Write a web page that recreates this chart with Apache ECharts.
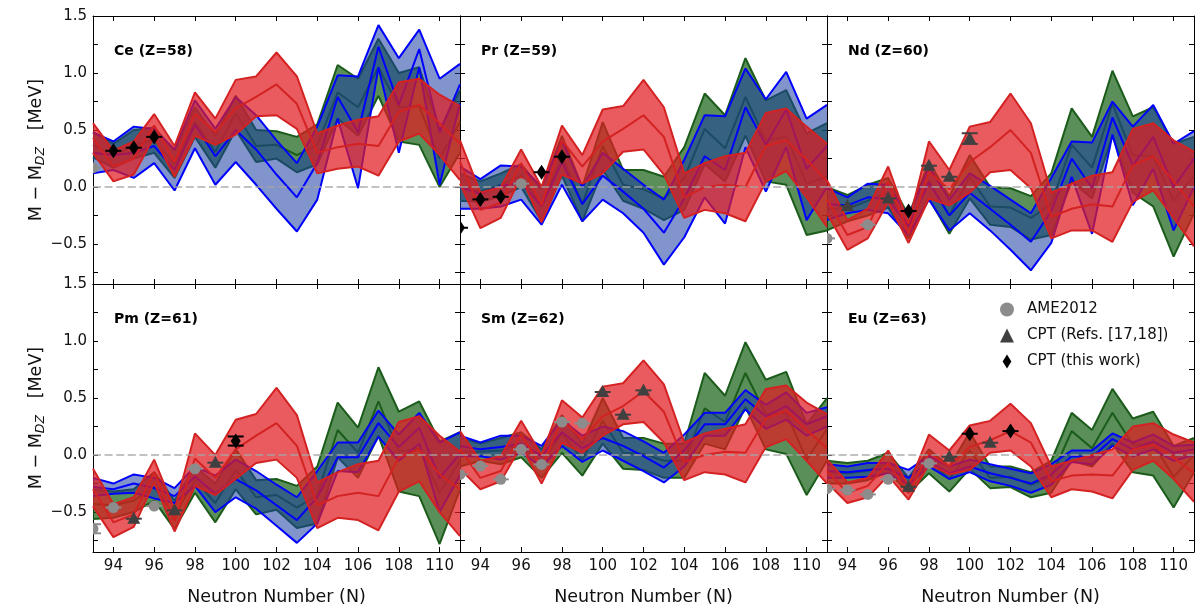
<!DOCTYPE html>
<html><head><meta charset="utf-8">
<script src="https://cdn.jsdelivr.net/npm/echarts@6/dist/echarts.min.js"></script>
<style>html,body{margin:0;padding:0;background:#fff}#c{width:1196px;height:611px}</style>
</head><body><div id="c"></div>
<script>
// ---------- data ----------
const N = [93,94,95,96,97,98,99,100,101,102,103,104,105,106,107,108,109,110,111];
const xTicks = [94,96,98,100,102,104,106,108,110];
const yTicks = [-0.75,-0.5,-0.25,0,0.25,0.5,0.75,1,1.25,1.5];
const yLabels = [-0.5,0,0.5,1,1.5];
const panelNames = ['Ce (Z=58)','Pr (Z=59)','Nd (Z=60)','Pm (Z=61)','Sm (Z=62)','Eu (Z=63)'];

// Ce
const ceGreenLo  = [0.26,0.17,0.25,0.30,0.08,0.44,0.17,0.50,0.22,0.25,0.13,0.20,0.60,0.45,0.80,0.40,0.37,0.00,0.30];
const ceGreenMid = [0.37,0.27,0.37,0.41,0.20,0.57,0.31,0.65,0.36,0.37,0.28,0.37,0.83,0.70,1.05,0.70,0.71,0.25,0.57];
const ceGreenHi  = [0.48,0.38,0.50,0.52,0.32,0.70,0.45,0.80,0.50,0.49,0.44,0.55,1.07,0.95,1.30,1.00,1.05,0.50,0.85];
const ceBlueLo   = [0.12,0.15,0.08,0.21,-0.03,0.34,0.02,0.22,0.02,-0.19,-0.39,-0.11,0.60,-0.01,1.05,0.30,1.05,0.02,0.73];
const ceBlueMid  = [0.30,0.28,0.30,0.36,0.15,0.55,0.27,0.50,0.33,0.11,-0.09,0.21,0.79,0.48,1.23,0.72,1.21,0.48,0.90];
const ceBlueHi   = [0.48,0.40,0.53,0.51,0.33,0.76,0.51,0.79,0.63,0.41,0.21,0.53,0.98,0.97,1.42,1.13,1.38,0.95,1.08];
const ceRedLo    = [0.30,0.05,0.11,0.44,0.09,0.45,0.37,0.46,0.62,0.63,0.51,0.12,0.16,0.18,0.10,0.40,0.47,0.28,0.06];
const ceRedMid   = [0.43,0.18,0.25,0.54,0.22,0.64,0.48,0.69,0.79,0.90,0.73,0.30,0.35,0.38,0.36,0.66,0.72,0.56,0.38];
const ceRedHi    = [0.56,0.32,0.40,0.64,0.36,0.83,0.60,0.94,0.97,1.18,0.97,0.47,0.54,0.59,0.62,0.92,0.95,0.81,0.71];
// Pr
const prGreenLo  = [-0.12,-0.13,-0.08,0.00,-0.30,0.10,-0.30,0.15,-0.12,-0.19,-0.29,-0.20,0.20,0.05,0.45,0.05,0.02,-0.42,-0.38];
const prGreenMid = [0.00,-0.04,0.02,0.10,-0.16,0.28,-0.15,0.36,0.02,-0.02,-0.10,0.08,0.51,0.34,0.79,0.41,0.44,0.03,0.09];
const prGreenHi  = [0.12,0.05,0.12,0.20,-0.02,0.45,0.00,0.57,0.15,0.15,0.09,0.35,0.82,0.63,1.13,0.76,0.85,0.47,0.56];
const prBlueLo   = [-0.19,-0.19,-0.17,-0.11,-0.33,0.02,-0.30,-0.11,-0.23,-0.40,-0.68,-0.44,-0.09,-0.32,0.35,-0.04,0.35,-0.29,0.00];
const prBlueMid  = [0.00,-0.06,0.01,0.04,-0.17,0.22,-0.15,0.10,-0.04,-0.19,-0.40,-0.10,0.27,0.15,0.70,0.37,0.68,0.16,0.36];
const prBlueHi   = [0.18,0.07,0.19,0.18,0.00,0.41,0.00,0.30,0.16,0.02,-0.11,0.24,0.63,0.62,1.04,0.77,1.01,0.60,0.72];
const prRedLo    = [0.03,-0.36,-0.27,0.09,-0.31,0.11,0.03,0.12,0.31,0.33,0.11,-0.27,-0.20,-0.23,-0.30,0.05,0.14,-0.09,-0.35];
const prRedMid   = [0.22,-0.20,-0.14,0.21,-0.16,0.41,0.18,0.40,0.51,0.63,0.44,-0.09,0.00,0.02,0.00,0.36,0.41,0.24,0.05];
const prRedHi    = [0.41,-0.05,0.00,0.33,0.00,0.54,0.28,0.68,0.71,0.94,0.70,0.12,0.21,0.27,0.30,0.65,0.69,0.53,0.38];
// Nd
const ndGreenLo  = [-0.38,-0.30,-0.25,-0.18,-0.45,-0.10,-0.41,-0.10,-0.33,-0.35,-0.46,-0.42,0.05,-0.10,0.45,-0.05,-0.17,-0.61,-0.23];
const ndGreenMid = [-0.19,-0.19,-0.12,-0.05,-0.35,0.06,-0.25,0.09,-0.17,-0.18,-0.27,-0.15,0.37,0.17,0.73,0.28,0.27,-0.12,0.10];
const ndGreenHi  = [0.00,-0.07,0.02,0.08,-0.25,0.22,-0.08,0.28,0.00,-0.01,-0.08,0.12,0.69,0.44,1.02,0.62,0.70,0.38,0.44];
const ndBlueLo   = [-0.29,-0.23,-0.20,-0.23,-0.42,-0.11,-0.38,-0.23,-0.38,-0.55,-0.73,-0.49,0.09,-0.41,0.46,-0.16,0.16,-0.38,0.00];
const ndBlueMid  = [-0.15,-0.16,-0.09,-0.11,-0.34,0.04,-0.25,-0.05,-0.19,-0.33,-0.48,-0.21,0.25,-0.01,0.61,0.19,0.44,0.00,0.25];
const ndBlueHi   = [-0.01,-0.09,0.03,0.02,-0.26,0.18,-0.11,0.12,0.01,-0.11,-0.23,0.08,0.40,0.39,0.75,0.53,0.72,0.38,0.49];
const ndRedLo    = [-0.23,-0.55,-0.45,-0.13,-0.49,-0.10,-0.16,-0.05,0.13,0.15,-0.01,-0.45,-0.38,-0.38,-0.48,-0.13,-0.03,-0.27,-0.52];
const ndRedMid   = [-0.11,-0.42,-0.35,0.05,-0.41,0.13,-0.02,0.22,0.35,0.50,0.30,-0.26,-0.19,-0.15,-0.17,0.19,0.27,0.05,-0.17];
const ndRedHi    = [0.06,-0.29,-0.19,0.18,-0.32,0.40,0.15,0.53,0.57,0.82,0.56,-0.05,0.03,0.10,0.13,0.51,0.56,0.41,0.31];
// Pm
const pmGreenLo  = [-0.56,-0.55,-0.50,-0.40,-0.65,-0.33,-0.59,-0.30,-0.52,-0.48,-0.64,-0.60,-0.02,-0.20,0.17,-0.32,-0.36,-0.78,-0.30];
const pmGreenMid = [-0.43,-0.44,-0.40,-0.28,-0.53,-0.22,-0.42,-0.13,-0.37,-0.35,-0.46,-0.35,0.22,0.02,0.47,0.03,0.06,-0.33,-0.05];
const pmGreenHi  = [-0.30,-0.32,-0.30,-0.15,-0.40,-0.10,-0.25,0.05,-0.22,-0.21,-0.27,-0.10,0.46,0.24,0.77,0.38,0.47,0.12,0.20];
const pmBlueLo   = [-0.36,-0.34,-0.33,-0.38,-0.42,-0.27,-0.50,-0.37,-0.47,-0.62,-0.77,-0.60,-0.14,-0.15,0.16,-0.05,0.10,-0.50,-0.18];
const pmBlueMid  = [-0.28,-0.30,-0.25,-0.29,-0.36,-0.19,-0.34,-0.21,-0.31,-0.44,-0.57,-0.37,-0.02,-0.02,0.28,0.07,0.24,-0.20,0.01];
const pmBlueHi   = [-0.20,-0.25,-0.17,-0.20,-0.29,-0.10,-0.18,-0.04,-0.14,-0.26,-0.37,-0.14,0.11,0.11,0.39,0.18,0.37,0.11,0.20];
const pmRedLo    = [-0.45,-0.72,-0.63,-0.24,-0.67,-0.27,-0.35,-0.21,-0.07,-0.04,-0.20,-0.64,-0.55,-0.57,-0.66,-0.32,-0.23,-0.50,-0.71];
const pmRedMid   = [-0.30,-0.59,-0.52,-0.15,-0.58,-0.03,-0.20,0.05,0.17,0.28,0.08,-0.44,-0.36,-0.33,-0.36,-0.02,0.05,-0.17,-0.30];
const pmRedHi    = [-0.12,-0.43,-0.37,-0.04,-0.48,0.19,0.00,0.31,0.36,0.59,0.35,-0.24,-0.15,-0.08,-0.05,0.29,0.34,0.17,0.03];
// Sm
const smGreenLo  = [-0.10,-0.05,-0.08,-0.02,-0.20,0.02,-0.18,0.10,-0.12,-0.13,-0.20,-0.20,0.10,0.05,0.42,0.05,0.01,-0.35,-0.05];
const smGreenMid = [0.03,0.03,0.04,0.09,-0.08,0.19,-0.04,0.30,0.02,0.01,-0.05,-0.05,0.41,0.29,0.72,0.36,0.37,-0.04,0.23];
const smGreenHi  = [0.15,0.10,0.15,0.20,0.05,0.35,0.10,0.50,0.15,0.15,0.10,0.10,0.72,0.52,0.99,0.66,0.73,0.27,0.50];
const smBlueLo   = [-0.01,-0.01,-0.04,0.02,-0.10,0.08,-0.06,0.04,-0.05,-0.14,-0.24,-0.10,0.17,0.17,0.40,0.23,0.31,0.17,0.25];
const smBlueMid  = [0.08,0.05,0.07,0.10,-0.01,0.20,0.06,0.15,0.08,-0.01,-0.11,0.04,0.27,0.27,0.49,0.34,0.43,0.27,0.34];
const smBlueHi   = [0.17,0.11,0.17,0.17,0.08,0.31,0.17,0.25,0.21,0.12,0.02,0.18,0.37,0.37,0.57,0.44,0.55,0.37,0.42];
const smRedLo    = [-0.12,-0.30,-0.23,0.08,-0.25,0.11,0.02,0.17,0.27,0.29,0.11,-0.22,-0.15,-0.17,-0.24,0.07,0.14,-0.05,-0.25];
const smRedMid   = [0.05,-0.20,-0.14,0.18,-0.11,0.31,0.14,0.34,0.43,0.56,0.38,-0.06,0.00,0.03,0.02,0.32,0.39,0.22,0.06];
const smRedHi    = [0.21,-0.05,-0.01,0.30,0.00,0.48,0.33,0.60,0.63,0.83,0.62,0.11,0.19,0.23,0.27,0.58,0.61,0.46,0.36];
// Eu
const euGreenLo  = [-0.25,-0.25,-0.22,-0.15,-0.33,-0.16,-0.32,-0.12,-0.29,-0.28,-0.37,-0.33,-0.05,-0.10,0.10,-0.15,-0.18,-0.46,-0.15];
const euGreenMid = [-0.15,-0.16,-0.14,-0.07,-0.27,-0.05,-0.21,0.04,-0.20,-0.19,-0.26,-0.19,0.21,0.06,0.37,0.09,0.10,-0.19,0.00];
const euGreenHi  = [-0.05,-0.07,-0.05,0.02,-0.20,0.05,-0.10,0.20,-0.10,-0.10,-0.15,-0.05,0.37,0.22,0.58,0.32,0.38,0.08,0.15];
const euBlueLo   = [-0.20,-0.20,-0.19,-0.16,-0.26,-0.10,-0.21,-0.15,-0.23,-0.27,-0.33,-0.26,-0.06,-0.08,0.08,-0.01,0.05,-0.05,0.00];
const euBlueMid  = [-0.14,-0.15,-0.13,-0.12,-0.20,-0.06,-0.16,-0.10,-0.16,-0.20,-0.25,-0.17,-0.01,-0.02,0.14,0.05,0.12,0.02,0.05];
const euBlueHi   = [-0.08,-0.10,-0.07,-0.07,-0.13,-0.01,-0.10,-0.04,-0.08,-0.12,-0.16,-0.08,0.04,0.04,0.19,0.11,0.18,0.08,0.09];
const euRedLo    = [-0.24,-0.42,-0.37,-0.18,-0.39,-0.08,-0.17,-0.13,0.02,0.04,-0.10,-0.37,-0.30,-0.32,-0.38,-0.13,-0.05,-0.21,-0.41];
const euRedMid   = [-0.14,-0.33,-0.27,-0.07,-0.33,0.02,-0.10,0.07,0.13,0.21,0.11,-0.23,-0.18,-0.17,-0.18,0.05,0.09,-0.02,-0.16];
const euRedHi    = [-0.04,-0.24,-0.20,0.04,-0.27,0.18,0.04,0.26,0.30,0.45,0.28,-0.10,-0.05,0.00,0.05,0.25,0.28,0.18,0.11];

// measured points: [N, value, error]
const ceAme = [[93,0.17,0]];
const ceRefs = [];
const ceThis = [[94,0.318,0],[95,0.345,0],[96,0.44,0]];
const prAme = [[96,0.03,0]];
const prRefs = [];
const prThis = [[93,-0.357,0],[94,-0.108,0],[95,-0.085,0],[97,0.13,0],[98,0.266,0]];
const ndAme = [[93,-0.45,0],[95,-0.33,0]];
const ndRefs = [[94,-0.167,0],[96,-0.10,0],[98,0.187,0],[99,0.09,0],[100,0.425,0.047]];
const ndThis = [[97,-0.21,0]];
const pmAme = [[93,-0.646,0.04],[94,-0.46,0],[96,-0.447,0],[98,-0.12,0]];
const pmRefs = [[95,-0.558,0],[97,-0.485,0],[99,-0.067,0]];
const pmThis = [[100,0.123,0.04]];
const smAme = [[93,-0.17,0],[94,-0.096,0],[95,-0.213,0],[96,0.05,0],[97,-0.082,0],[98,0.29,0],[99,0.278,0]];
const smRefs = [[100,0.553,0],[101,0.354,0],[102,0.567,0]];
const smThis = [];
const euAme = [[93,-0.295,0],[94,-0.307,0],[95,-0.345,0],[96,-0.213,0],[98,-0.073,0]];
const euRefs = [[97,-0.278,0],[99,-0.015,0],[101,0.108,0]];
const euThis = [[100,0.187,0],[102,0.21,0]];

// ---------- assembly ----------
const panels = [
  {g:[ceGreenLo,ceGreenMid,ceGreenHi], b:[ceBlueLo,ceBlueMid,ceBlueHi], r:[ceRedLo,ceRedMid,ceRedHi], ame:ceAme, refs:ceRefs, tw:ceThis},
  {g:[prGreenLo,prGreenMid,prGreenHi], b:[prBlueLo,prBlueMid,prBlueHi], r:[prRedLo,prRedMid,prRedHi], ame:prAme, refs:prRefs, tw:prThis},
  {g:[ndGreenLo,ndGreenMid,ndGreenHi], b:[ndBlueLo,ndBlueMid,ndBlueHi], r:[ndRedLo,ndRedMid,ndRedHi], ame:ndAme, refs:ndRefs, tw:ndThis},
  {g:[pmGreenLo,pmGreenMid,pmGreenHi], b:[pmBlueLo,pmBlueMid,pmBlueHi], r:[pmRedLo,pmRedMid,pmRedHi], ame:pmAme, refs:pmRefs, tw:pmThis},
  {g:[smGreenLo,smGreenMid,smGreenHi], b:[smBlueLo,smBlueMid,smBlueHi], r:[smRedLo,smRedMid,smRedHi], ame:smAme, refs:smRefs, tw:smThis},
  {g:[euGreenLo,euGreenMid,euGreenHi], b:[euBlueLo,euBlueMid,euBlueHi], r:[euRedLo,euRedMid,euRedHi], ame:euAme, refs:euRefs, tw:euThis}
];

const FONT = 'DejaVu Sans';
const COL = {
  g:{edge:'#1b5c1b', fill:'rgba(20,95,20,0.70)'},
  b:{edge:'#0000ff', fill:'rgba(25,60,160,0.55)'},
  r:{edge:'#d42222', fill:'rgba(225,28,32,0.72)'}
};
const LEFT = [93, 460, 827], TOP = [16, 284], W = 367, H = [268, 268];

const grids = [], xAxes = [], yAxes = [], series = [], graphics = [];
const fmt = v => v.toFixed(1).replace('-', '\u2212');

function mkMarker(kind, color) {
  return function (params, api) {
    const n = api.value(0), v = api.value(1), e = api.value(2) || 0;
    const c = api.coord([n, v]);
    const yt = api.coord([n, v + e])[1], yb = api.coord([n, v - e])[1];
    const ls = {stroke: color, lineWidth: 2};
    const ch = [];
    ch.push({type:'line', shape:{x1:c[0]-8, y1:yt, x2:c[0]+8, y2:yt}, style:ls});
    if (e > 0) {
      ch.push({type:'line', shape:{x1:c[0]-8, y1:yb, x2:c[0]+8, y2:yb}, style:ls});
      ch.push({type:'line', shape:{x1:c[0], y1:yt, x2:c[0], y2:yb}, style:ls});
    }
    if (kind === 'circle') ch.push({type:'circle', shape:{cx:c[0], cy:c[1], r:5.5}, style:{fill:color}});
    else if (kind === 'tri') ch.push({type:'polygon', shape:{points:[[c[0],c[1]-7],[c[0]+6.5,c[1]+5],[c[0]-6.5,c[1]+5]]}, style:{fill:color}});
    else ch.push({type:'polygon', shape:{points:[[c[0],c[1]-7.5],[c[0]+5,c[1]],[c[0],c[1]+7.5],[c[0]-5,c[1]]]}, style:{fill:color}});
    return {type:'group', children: ch};
  };
}

function mkBand(lo, hi, fill) {
  return function (params, api) {
    const top = N.map((n, k) => api.coord([n, hi[k]]));
    const bot = N.map((n, k) => api.coord([n, lo[k]])).reverse();
    return {type:'polygon', shape:{points: top.concat(bot)}, style:{fill: fill}};
  };
}

panels.forEach((p, i) => {
  const r = Math.floor(i / 3), c = i % 3;
  grids.push({left: LEFT[c], top: TOP[r], width: W, height: H[r], containLabel: false});
  const axLine = {show:true, onZero:false, lineStyle:{color:'#000', width:1}};
  const tick = vals => ({show:true, inside:true, length:5, customValues: vals, lineStyle:{color:'#000', width:1}});
  xAxes.push({gridIndex:i, type:'value', min:93, max:111, position:'bottom', axisLine:axLine, axisTick:tick(xTicks),
    axisLabel:{show: r === 1, customValues: xTicks, fontSize:15, color:'#111', fontFamily:FONT, margin:7}, splitLine:{show:false}});
  xAxes.push({gridIndex:i, type:'value', min:93, max:111, position:'top', axisLine:axLine, axisTick:tick(xTicks),
    axisLabel:{show:false}, splitLine:{show:false}});
  yAxes.push({gridIndex:i, type:'value', min:-0.85, max:1.5, position:'left', axisLine:axLine, axisTick:tick(yTicks),
    axisLabel:{show: c === 0, customValues: yLabels, formatter: fmt, fontSize:15, color:'#111', fontFamily:FONT, margin:6}, splitLine:{show:false}});
  yAxes.push({gridIndex:i, type:'value', min:-0.85, max:1.5, position:'right', axisLine:axLine, axisTick:tick(yTicks),
    axisLabel:{show:false}, splitLine:{show:false}});

  let z = 2;
  const base = () => ({type:'line', xAxisIndex:2*i, yAxisIndex:2*i, symbol:'none', silent:true, clip:true, z: z++});
  const pts = a => N.map((n, k) => [n, a[k]]);
  ['g','b','r'].forEach(m => {
    const [lo, mid, hi] = p[m];
    series.push({type:'custom', xAxisIndex:2*i, yAxisIndex:2*i, silent:true, clip:true, z: z++,
      encode:{x:0, y:1}, data:[[N[0], lo[0]]], renderItem: mkBand(lo, hi, COL[m].fill)});
    [lo, mid, hi].forEach(a => series.push(Object.assign(base(), {data: pts(a), lineStyle:{color: COL[m].edge, width:2}})));
  });
  series.push(Object.assign(base(), {data: [[93,0],[111,0]], lineStyle:{color:'rgba(165,165,165,0.9)', width:1.5, type:[8,3.6]}}));

  const cs = (name, data, kind, color) => ({type:'custom', name, xAxisIndex:2*i, yAxisIndex:2*i, clip:true, silent:true, z: z++,
    itemStyle:{color}, encode:{x:0, y:1}, data, renderItem: mkMarker(kind, color)});
  series.push(cs('AME2012', p.ame, 'circle', '#8c8c8c'));
  series.push(cs('CPT (Refs. [17,18])', p.refs, 'tri', '#404040'));
  series.push(cs('CPT (this work)', p.tw, 'dia', '#000000'));

  graphics.push({type:'text', left: LEFT[c] + 21, top: TOP[r] + 28, z: 100,
    style:{text: panelNames[i], font:'bold 14px "DejaVu Sans"', fill:'#000'}, silent:true});
});

[150, 418].forEach(yc => {
  graphics.push({type:'text', x: 36.5, y: yc, rotation: Math.PI / 2, silent:true, z: 100,
    style:{text:'{n|M \u2212 M}{s|DZ}{n|   [MeV]}', align:'center', verticalAlign:'middle',
      rich:{n:{fontSize:17.5, fontFamily:FONT, fill:'#111'}, s:{fontSize:12.5, fontStyle:'italic', fontFamily:FONT, fill:'#111', padding:[9,0,0,0]}}}});
});
LEFT.forEach(l => {
  graphics.push({type:'text', x: l + W / 2, y: 597, silent:true, z: 100,
    style:{text:'Neutron Number (N)', align:'center', verticalAlign:'middle', fontSize:17.5, fontFamily:FONT, fill:'#111'}});
});

const chart = echarts.init(document.getElementById('c'), null, {renderer:'canvas'});
chart.setOption({
  animation:false,
  backgroundColor:'#fff',
  grid: grids, xAxis: xAxes, yAxis: yAxes, series,
  legend: {orient:'vertical', left: 995, top: 297, z: 100, itemWidth:14, itemHeight:14, itemGap:11, selectedMode:false,
    textStyle:{fontSize:15, fontFamily:FONT, color:'#111', padding:[0,0,0,8]},
    data:[{name:'AME2012', icon:'circle'}, {name:'CPT (Refs. [17,18])', icon:'triangle'},
          {name:'CPT (this work)', icon:'path://M5,0L10,8L5,16L0,8Z'}]},
  graphic: graphics
});
</script></body></html>
